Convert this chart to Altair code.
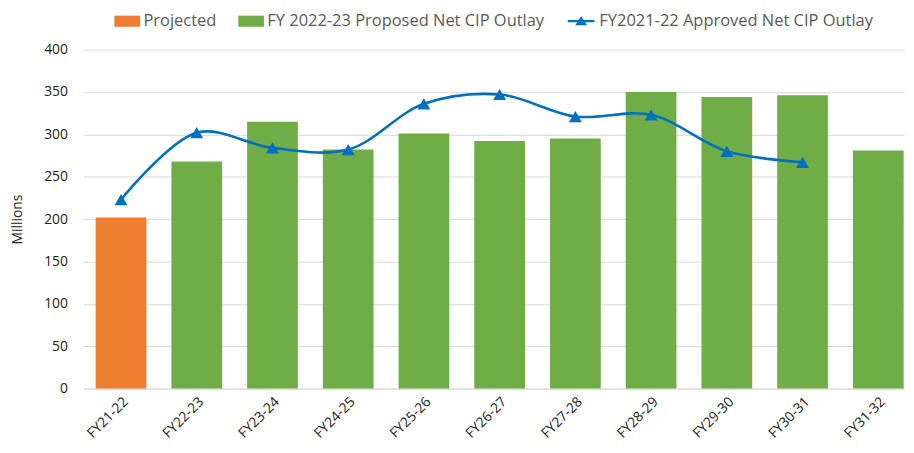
import altair as alt
import pandas as pd

categories = ["FY21-22", "FY22-23", "FY23-24", "FY24-25", "FY25-26", "FY26-27",
              "FY27-28", "FY28-29", "FY29-30", "FY30-31", "FY31-32"]
bar_values = [202, 268, 315, 282, 301, 292, 295, 350, 344, 346, 281]
bar_series = ["Projected"] + ["FY 2022-23 Proposed Net CIP Outlay"] * 10
line_categories = categories[:10]
line_values = [223, 302, 284, 282, 336, 347, 321, 323, 280, 267]
line_name = "FY2021-22 Approved Net CIP Outlay"

bars_df = pd.DataFrame({"cat": categories, "value": bar_values, "series": bar_series})
line_df = pd.DataFrame({"cat": line_categories, "value": line_values,
                        "series": [line_name] * len(line_values)})

FONT = "Open Sans"
x_enc = alt.X("cat:N", sort=categories, title=None,
              scale=alt.Scale(domain=categories, paddingInner=0.33, paddingOuter=0.084,
                              align=0.97),
              axis=alt.Axis(labelAngle=-45, labelFontSize=14, labelColor="#222",
                            labelFont=FONT, ticks=False, domain=True, domainColor="#d9d9d9",
                            labelPadding=6, grid=False))
y_enc = alt.Y("value:Q", title="Millions",
              scale=alt.Scale(domain=[0, 400], nice=False),
              axis=alt.Axis(values=list(range(0, 401, 50)), labelFontSize=14, labelFont=FONT,
                            labelColor="#222", titleFont=FONT, titleFontSize=14,
                            titleFontWeight="normal", titleColor="#222", ticks=False,
                            domain=False, gridColor="#d9d9d9", labelPadding=16,
                            titlePadding=19))

bars = alt.Chart(bars_df).mark_bar().encode(
    x=x_enc,
    y=y_enc,
    color=alt.Color("series:N",
                    scale=alt.Scale(domain=["Projected", "FY 2022-23 Proposed Net CIP Outlay"],
                                    range=["#ED7D31", "#70AD47"]),
                    legend=alt.Legend(title=None, orient="none", legendX=36, legendY=-37,
                                      direction="horizontal",
                                      symbolType="M-1.85,-0.8L1.85,-0.8L1.85,0.8L-1.85,0.8Z",
                                      symbolSize=196, symbolStrokeWidth=0,
                                      labelFont=FONT, labelFontSize=16.6, labelColor="#595959",
                                      labelLimit=500, columnPadding=21, labelOffset=8)),
)

line = alt.Chart(line_df).mark_line(
    interpolate="catmull-rom", strokeWidth=2.6,
    point=alt.OverlayMarkDef(shape="triangle-up", size=170, filled=True, opacity=1),
).encode(
    x=alt.X("cat:N", sort=categories),
    y=alt.Y("value:Q"),
    color=alt.Color("series:N", scale=alt.Scale(domain=[line_name], range=["#0070C0"]),
                    legend=alt.Legend(title=None, orient="none", legendX=494, legendY=-37,
                                      direction="horizontal",
                                      symbolType="M-1.93,-0.15L1.93,-0.15L1.93,0.15L-1.93,0.15Z M-0.85,0.6L0,-0.7L0.85,0.6Z",
                                      symbolSize=196, symbolStrokeWidth=0,
                                      symbolFillColor="#0070C0",
                                      labelFont=FONT, labelFontSize=16.6, labelColor="#595959",
                                      labelLimit=500, labelOffset=10)),
)

chart = alt.layer(bars, line).resolve_scale(color="independent").properties(
    width=828, height=342,
    autosize=alt.AutoSizeParams(type="none"),
    padding={"left": 76, "top": 40, "right": 2, "bottom": 60},
).configure_view(stroke=None).configure_legend(padding=0)

chart.save("out.html", embed_options={"renderer": "svg", "actions": False})
